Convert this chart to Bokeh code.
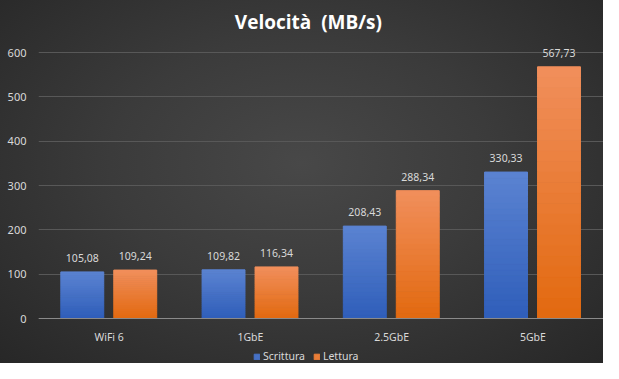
from bokeh.plotting import figure
from bokeh.models import (Range1d, FactorRange, Label, Legend, LegendItem,
                          FixedTicker, ColumnDataSource)
from bokeh.transform import dodge
from bokeh.core.properties import value
from bokeh.embed import file_html
from bokeh.resources import INLINE

# ---- data ----
categories = ["WiFi 6", "1GbE", "2.5GbE", "5GbE"]
scrittura = [105.08, 109.82, 208.43, 330.33]
lettura = [109.24, 116.34, 288.34, 567.73]
series_names = ["Scrittura", "Lettura"]
y_ticks = [0, 100, 200, 300, 400, 500, 600]

FONT = "Noto Sans"
TXT = "#d9d9d9"

p = figure(width=603, height=363, output_backend="svg", toolbar_location=None,
           x_range=FactorRange(factors=categories, range_padding=0),
           y_range=Range1d(-101.5, 717.3),
           min_border_left=38, min_border_right=0, min_border_top=0,
           min_border_bottom=0)
p.background_fill_alpha = 0
p.border_fill_alpha = 0
p.styles = {"background": "radial-gradient(ellipse at 50% 45%, #484848 0%, #3b3b3b 45%, #272727 100%)"}
p.outline_line_color = None

def hex2rgb(h):
    h = h.lstrip("#")
    return tuple(int(h[i:i + 2], 16) for i in (0, 2, 4))

def interp(c0, c1, t):
    a, b = hex2rgb(c0), hex2rgb(c1)
    return "#%02x%02x%02x" % tuple(int(round(a[k] + (b[k] - a[k]) * t)) for k in range(3))

N = 24
W = 0.31
renderers = []
specs = [(scrittura, "#2f5eba", "#5b83d1", -0.19),
         (lettura, "#e2690f", "#f18f5c", 0.185)]
for vals, cb, ct, off in specs:
    xs, bots, tops, cols = [], [], [], []
    for cat, v in zip(categories, vals):
        for i in range(N):
            xs.append(cat)
            bots.append(v * i / N)
            tops.append(v * (i + 1) / N)
            cols.append(interp(cb, ct, (i + 0.5) / N))
    src = ColumnDataSource(dict(x=xs, bottom=bots, top=tops, color=cols))
    r = p.vbar(x=dodge("x", off, range=p.x_range), bottom="bottom", top="top",
               width=W - 0.006, source=src, fill_color="color",
               line_color="color", line_width=1)
    renderers.append(r)

    lab_src = ColumnDataSource(dict(x=categories, y=vals,
                                    t=[("%.2f" % v).replace(".", ",") for v in vals]))
    p.text(x=dodge("x", off, range=p.x_range), y="y", text="t", source=lab_src,
           text_align="center", text_baseline="bottom", y_offset=-10,
           text_color=TXT, text_font=value(FONT), text_font_size="10.5px")

# title
p.add_layout(Label(x=1.911, y=667.7, text="Velocità\u00a0 (MB/s)", text_align="center",
                   text_baseline="middle", text_color="#ffffff",
                   text_font="Open Sans", text_font_size="19px",
                   text_font_style="bold"))

# axes
p.yaxis.ticker = FixedTicker(ticks=y_ticks)
p.yaxis.axis_line_color = None
p.yaxis.major_tick_line_color = None
p.yaxis.minor_tick_line_color = None
p.yaxis.major_label_standoff = 6
p.yaxis.major_label_text_color = TXT
p.yaxis.major_label_text_font = FONT
p.yaxis.major_label_text_font_size = "11px"

p.xaxis.fixed_location = 0
p.xaxis.axis_line_color = "#8a8a8a"
p.xaxis.axis_line_width = 1
p.xaxis.major_tick_line_color = None
p.xaxis.minor_tick_line_color = None
p.xaxis.major_label_standoff = 5
p.xaxis.major_label_text_color = TXT
p.xaxis.major_label_text_font = FONT
p.xaxis.major_label_text_font_size = "10.5px"

p.xgrid.grid_line_color = None
p.ygrid.grid_line_color = "#585858"
p.ygrid.grid_line_width = 1

legend = Legend(items=[LegendItem(label=series_names[0], renderers=[renderers[0]], index=N // 2),
                       LegendItem(label=series_names[1], renderers=[renderers[1]], index=N // 2)],
                orientation="horizontal", location=(215, 0),
                background_fill_alpha=0, border_line_alpha=0,
                label_text_color=TXT, label_text_font=FONT, label_text_font_size="10.5px",
                glyph_width=7, glyph_height=7, spacing=8, padding=0, margin=0,
                label_standoff=3)
p.add_layout(legend, "center")

open("out.html", "w").write(file_html(p, INLINE))
